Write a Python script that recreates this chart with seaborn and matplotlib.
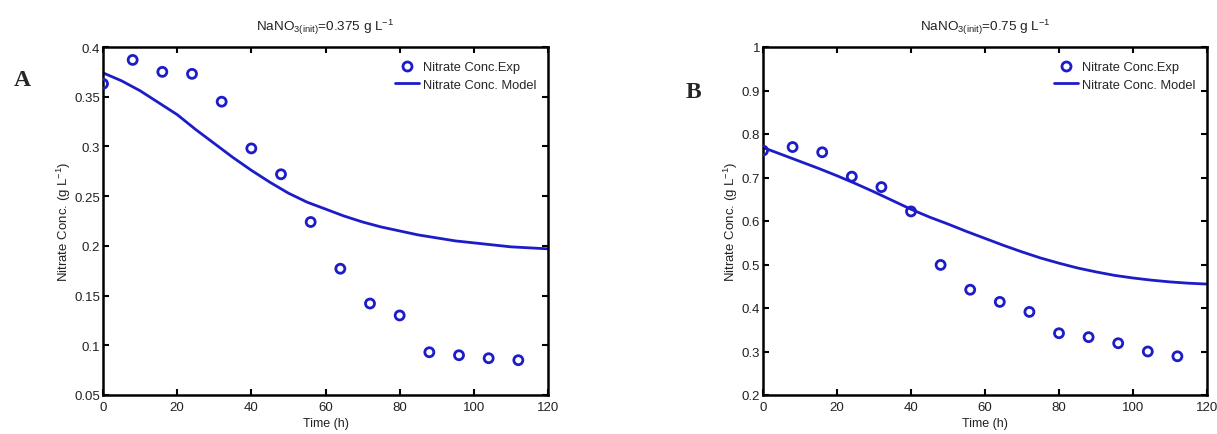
import numpy as np
import pandas as pd
import matplotlib
matplotlib.use("Agg")
import matplotlib.pyplot as plt
import seaborn as sns
from matplotlib.lines import Line2D

# ---- data ----
time_exp = [0, 8, 16, 24, 32, 40, 48, 56, 64, 72, 80, 88, 96, 104, 112]
exp_A = [0.363, 0.387, 0.375, 0.373, 0.345, 0.298, 0.272, 0.224, 0.177,
         0.142, 0.130, 0.093, 0.090, 0.087, 0.085]
exp_B = [0.762, 0.770, 0.758, 0.702, 0.678, 0.622, 0.499, 0.442, 0.414,
         0.391, 0.342, 0.333, 0.319, 0.300, 0.289]

time_model = [0, 5, 10, 15, 20, 25, 30, 35, 40, 45, 50, 55, 60, 65, 70,
              75, 80, 85, 90, 95, 100, 105, 110, 115, 120]
model_A = [0.374, 0.366, 0.356, 0.344, 0.332, 0.317, 0.303, 0.289, 0.276,
           0.264, 0.253, 0.244, 0.237, 0.230, 0.224, 0.219, 0.215, 0.211,
           0.208, 0.205, 0.203, 0.201, 0.199, 0.198, 0.197]
model_B = [0.769, 0.753, 0.737, 0.721, 0.704, 0.686, 0.667, 0.647, 0.627,
           0.609, 0.593, 0.576, 0.560, 0.544, 0.529, 0.515, 0.503, 0.492,
           0.483, 0.475, 0.469, 0.464, 0.460, 0.457, 0.455]

titles = ["NaNO$_{3(init)}$=0.375 g L$^{-1}$", "NaNO$_{3(init)}$=0.75 g L$^{-1}$"]
panel_letters = ["A", "B"]
ylims = [(0.05, 0.4), (0.2, 1.0)]
yticks = [[0.05, 0.1, 0.15, 0.2, 0.25, 0.3, 0.35, 0.4],
          [0.2, 0.3, 0.4, 0.5, 0.6, 0.7, 0.8, 0.9, 1.0]]
ytick_labels = [["0.05", "0.1", "0.15", "0.2", "0.25", "0.3", "0.35", "0.4"],
                ["0.2", "0.3", "0.4", "0.5", "0.6", "0.7", "0.8", "0.9", "1"]]
xticks = [0, 20, 40, 60, 80, 100, 120]

sns.set_theme(style="ticks")
plt.rcParams['font.family'] = ['Liberation Sans', 'DejaVu Sans']
plt.rcParams['mathtext.fontset'] = 'custom'
plt.rcParams['mathtext.rm'] = 'Liberation Sans'
plt.rcParams['mathtext.it'] = 'Liberation Sans'

BLUE = '#1c1cc8'
TXT = '#222222'

fig = plt.figure(figsize=(12.17, 4.35), dpi=100)
axA = fig.add_axes([103/1217, 39/435, 445/1217, 348/435])
axB = fig.add_axes([763/1217, 39/435, 444/1217, 348/435])

datasets = [
    (axA, exp_A, model_A),
    (axB, exp_B, model_B),
]

for i, (ax, ye, ym) in enumerate(datasets):
    dfe = pd.DataFrame({"t": time_exp, "c": ye})
    dfm = pd.DataFrame({"t": time_model, "c": ym})
    sns.lineplot(data=dfm, x="t", y="c", ax=ax, color=BLUE, linewidth=2.0,
                 errorbar=None)
    sns.scatterplot(data=dfe, x="t", y="c", ax=ax, marker="o", s=42,
                    facecolor="none", edgecolor=BLUE, linewidth=2.0, zorder=3)
    ax.set_xlim(0, 120)
    ax.set_ylim(*ylims[i])
    ax.set_xticks(xticks)
    ax.set_xticklabels([str(x) for x in xticks], fontsize=9.5)
    ax.set_yticks(yticks[i])
    ax.set_yticklabels(ytick_labels[i], fontsize=9.5)
    ax.tick_params(axis="x", pad=4)
    ax.tick_params(axis="y", pad=2)
    ax.tick_params(direction="in", length=4, width=1.5, top=True, right=True,
                   colors="black", labelcolor=TXT)
    for s in ax.spines.values():
        s.set_linewidth(1.8)
        s.set_color("black")
    ax.set_xlabel("Time (h)", fontsize=9, labelpad=3, color=TXT)
    ax.set_ylabel("Nitrate Conc. (g L$^{-1}$)", fontsize=9.5, labelpad=1,
                  color=TXT)
    ax.set_title(titles[i], fontsize=9.7, pad=12, color=TXT)
    handles = [
        Line2D([], [], linestyle="none", marker="o", markersize=6.5,
               markerfacecolor="none", markeredgecolor=BLUE, markeredgewidth=2.0),
        Line2D([], [], color=BLUE, linewidth=2.0),
    ]
    ax.legend(handles, ["Nitrate Conc.Exp", "Nitrate Conc. Model"],
              loc="upper right", frameon=False, fontsize=9.3,
              handlelength=1.9, handletextpad=0.3, labelspacing=0.4,
              borderaxespad=0.3, bbox_to_anchor=(0.995, 0.985))

fig.text(22/1217, 1 - 80/435, panel_letters[0], fontsize=17, fontweight="bold",
         family=["Liberation Serif", "DejaVu Serif"], va="center", ha="center")
fig.text(693/1217, 1 - 92/435, panel_letters[1], fontsize=17, fontweight="bold",
         family=["Liberation Serif", "DejaVu Serif"], va="center", ha="center")

fig.savefig("out.png", dpi=100, facecolor="white")
